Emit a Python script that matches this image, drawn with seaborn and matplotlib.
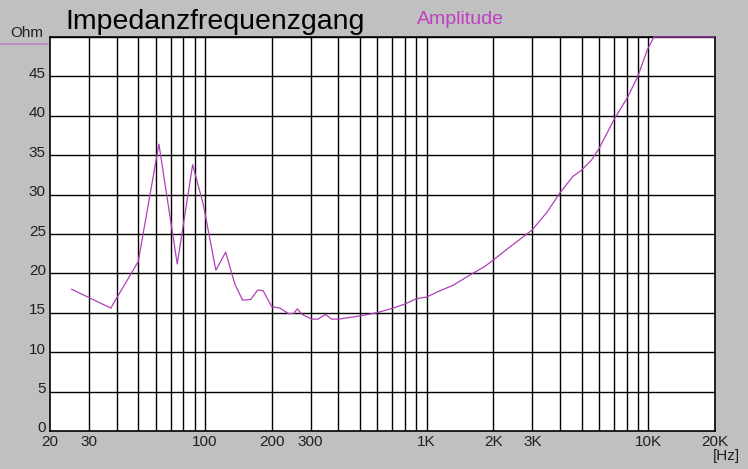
import numpy as np
import pandas as pd
import matplotlib
matplotlib.use("Agg")
import matplotlib.pyplot as plt
import matplotlib.transforms as mtransforms
import seaborn as sns
from matplotlib.ticker import FixedLocator, NullFormatter

# Impedanzfrequenzgang
freq_hz = [25, 37.6, 50, 62, 75, 88, 98.4, 112, 124, 136.6, 148, 161, 173, 183,
           200, 218, 238, 251, 261, 274, 303, 324, 350, 372, 400, 500, 595, 707,
           796, 901, 1000, 1128, 1318, 1570, 1834, 2000, 2360, 2990, 3500, 3990,
           4570, 5000, 5550, 6010, 7000, 8080, 8970, 9910, 10600, 20000]
impedance_ohm = [18.0, 15.6, 21.5, 36.4, 21.2, 33.8, 28.7, 20.4, 22.7, 18.6, 16.6,
                 16.7, 17.9, 17.8, 15.8, 15.6, 14.9, 14.9, 15.5, 14.8, 14.2, 14.2,
                 14.8, 14.2, 14.2, 14.6, 15.0, 15.6, 16.1, 16.8, 17.0, 17.7, 18.5,
                 19.8, 20.9, 21.7, 23.3, 25.5, 27.8, 30.2, 32.3, 33.1, 34.4, 35.9,
                 39.5, 42.4, 45.0, 48.4, 50.0, 50.0]

grid_freqs = [30, 40, 50, 60, 70, 80, 90, 100, 200, 300, 400, 500, 600, 700, 800,
              900, 1000, 2000, 3000, 4000, 5000, 6000, 7000, 8000, 9000, 10000]
xtick_vals = [20, 30, 100, 200, 300, 1000, 2000, 3000, 10000, 20000]
xtick_labels = ["20", "30", "100", "200", "300", "1K", "2K", "3K", "10K", "20K"]
ytick_vals = [0, 5, 10, 15, 20, 25, 30, 35, 40, 45]

LINE = "#b040b8"
BG = "#c0c0c0"

sns.set_style("white")
plt.rcParams["font.family"] = ["Liberation Sans", "DejaVu Sans"]

df = pd.DataFrame({"f": freq_hz, "z": impedance_ohm})

fig = plt.figure(figsize=(7.48, 4.69), dpi=100, facecolor=BG)
ax = fig.add_axes([50 / 748, 1 - 431 / 469, 665 / 748, 394 / 469])
ax.set_facecolor("white")

for f in grid_freqs:
    ax.axvline(f, color="black", linewidth=1.0, zorder=1)
for y in ytick_vals[1:] + [50]:
    ax.axhline(y, color="black", linewidth=1.0, zorder=1)

sns.lineplot(data=df, x="f", y="z", ax=ax, color=LINE, linewidth=0.9,
             zorder=3, clip_on=False)

ax.set_xscale("log")
ax.set_xlim(20, 20000)
ax.set_ylim(0, 50)
ax.xaxis.set_major_locator(FixedLocator(xtick_vals))
ax.set_xticklabels(xtick_labels)
ax.xaxis.set_minor_formatter(NullFormatter())
ax.xaxis.set_minor_locator(FixedLocator([]))
ax.set_yticks(ytick_vals)
ax.tick_params(axis="both", length=0, labelsize=11, colors="#202020", pad=3)
ax.set_xlabel("")
ax.set_ylabel("")
# y-Beschriftung leicht oberhalb der Gitterlinien
shift = mtransforms.ScaledTranslation(0, 4 / 100, fig.dpi_scale_trans)
for lab in ax.get_yticklabels():
    lab.set_transform(lab.get_transform() + shift)
for s in ax.spines.values():
    s.set_color("black")
    s.set_linewidth(1.2)

fig.text(65 / 748, 1 - 22 / 469, "Impedanzfrequenzgang", fontsize=20.5,
         color="black", va="center", ha="left")
fig.text(417 / 748, 1 - 19 / 469, "Amplitude", fontsize=14, color="#c040c0",
         va="center", ha="left")
fig.text(10 / 748, 1 - 33 / 469, "Ohm", fontsize=11, color="#202020",
         va="center", ha="left")
fig.add_artist(plt.Line2D([0, 48 / 748], [1 - 44 / 469, 1 - 44 / 469],
                          color="#c080c0", linewidth=1.2, transform=fig.transFigure))
fig.text(740 / 748, 1 - 456 / 469, "[Hz]", fontsize=11, color="#202020",
         va="center", ha="right")

fig.savefig("out.png", dpi=100, facecolor=BG)
